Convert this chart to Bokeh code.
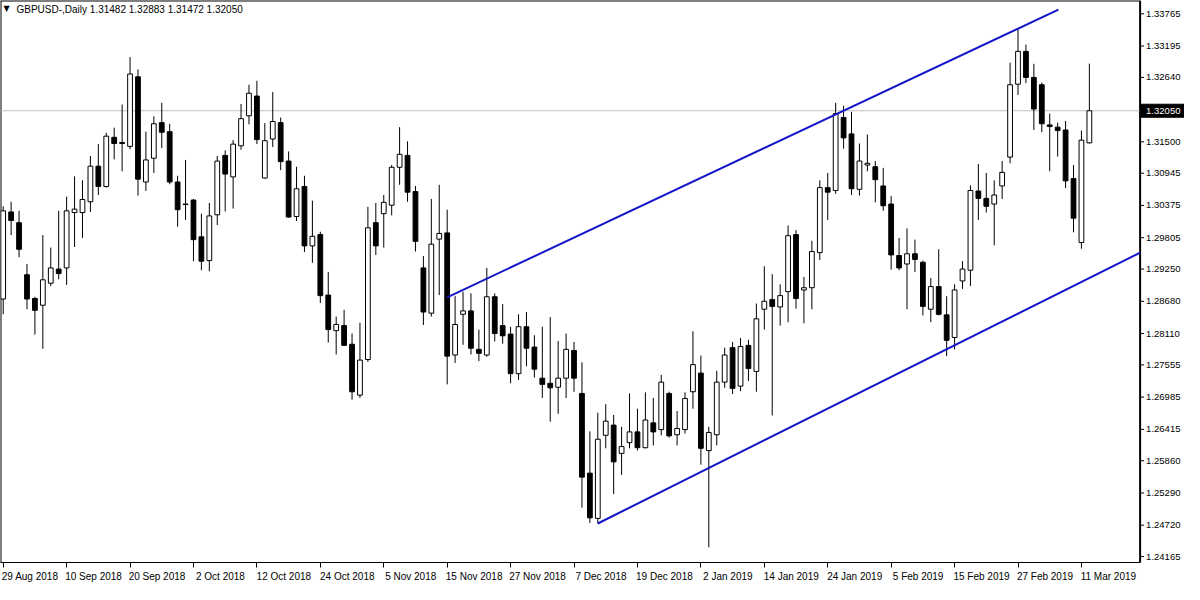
from bokeh.plotting import figure
from bokeh.models import ColumnDataSource, FixedTicker, Label, Range1d
from bokeh.core.properties import value
from bokeh.embed import file_html
from bokeh.resources import INLINE

# ---------------- data (GBPUSD daily, 29 Aug 2018 - 12 Mar 2019) ----------------
opens = [1.2872, 1.3026, 1.3007, 1.2915, 1.2873, 1.2861, 1.2900, 1.2925, 1.2927, 1.3025,
         1.3025, 1.3044, 1.3107, 1.3071, 1.3158, 1.3149, 1.3142, 1.3265, 1.3079, 1.3121,
         1.3184, 1.3168, 1.3079, 1.3040, 1.3047, 1.2982, 1.2940, 1.3021, 1.3126, 1.3088,
         1.3143, 1.3196, 1.3231, 1.3086, 1.3155, 1.3184, 1.3116, 1.3018, 1.3071, 1.2966,
         1.2986, 1.2879, 1.2816, 1.2825, 1.2792, 1.2702, 1.2765, 1.3007, 1.3023, 1.3038,
         1.3105, 1.3126, 1.3062, 1.2927, 1.2847, 1.2978, 1.2989, 1.2773, 1.2845, 1.2851,
         1.2783, 1.2773, 1.2876, 1.2825, 1.2810, 1.2740, 1.2823, 1.2787, 1.2732, 1.2723,
         1.2716, 1.2732, 1.2781, 1.2705, 1.2564, 1.2484, 1.2631, 1.2649, 1.2599, 1.2618,
         1.2637, 1.2609, 1.2653, 1.2641, 1.2705, 1.2632, 1.2641, 1.2708, 1.2741, 1.2604,
         1.2632, 1.2725, 1.2786, 1.2718, 1.2790, 1.2744, 1.2854, 1.2871, 1.2858, 1.2885,
         1.2986, 1.2888, 1.2892, 1.2954, 1.3069, 1.3064, 1.3193, 1.3164, 1.3066, 1.3109,
         1.3106, 1.3072, 1.3040, 1.2949, 1.2934, 1.2952, 1.2937, 1.2854, 1.2894, 1.2844,
         1.2804, 1.2904, 1.2923, 1.3063, 1.3050, 1.3040, 1.3072, 1.3123, 1.3252, 1.3310,
         1.3264, 1.3251, 1.3180, 1.3176, 1.3171, 1.3085, 1.2972, 1.31482]

highs = [1.3036, 1.3044, 1.3028, 1.2934, 1.2876, 1.2985, 1.2963, 1.3028, 1.3053, 1.3089,
         1.3082, 1.3125, 1.3146, 1.3166, 1.3175, 1.3216, 1.3300, 1.3278, 1.3168, 1.3195,
         1.3219, 1.3182, 1.3090, 1.3118, 1.3049, 1.3023, 1.3042, 1.3125, 1.3135, 1.3153,
         1.3217, 1.3251, 1.3258, 1.3183, 1.3238, 1.3193, 1.3133, 1.3106, 1.3090, 1.3046,
         1.2991, 1.2920, 1.2841, 1.2853, 1.2811, 1.2830, 1.3035, 1.3042, 1.3056, 1.3109,
         1.3176, 1.3151, 1.3072, 1.2948, 1.3049, 1.3074, 1.3030, 1.2877, 1.2885, 1.2882,
         1.2818, 1.2927, 1.2882, 1.2863, 1.2823, 1.2845, 1.2849, 1.2808, 1.2823, 1.2840,
         1.2798, 1.2811, 1.2796, 1.2760, 1.2638, 1.2671, 1.2686, 1.2667, 1.2646, 1.2705,
         1.2678, 1.2707, 1.2697, 1.2738, 1.2708, 1.2674, 1.2707, 1.2815, 1.2772, 1.2646,
         1.2745, 1.2786, 1.2796, 1.2803, 1.2800, 1.2864, 1.2930, 1.2916, 1.2898, 1.3002,
         1.2994, 1.2911, 1.2975, 1.3082, 1.3095, 1.3219, 1.3214, 1.3203, 1.3147, 1.3163,
         1.3116, 1.3104, 1.3054, 1.2980, 1.2997, 1.2977, 1.2940, 1.2909, 1.2960, 1.2877,
         1.2898, 1.2939, 1.3073, 1.3111, 1.3095, 1.3082, 1.3116, 1.3290, 1.3349, 1.3322,
         1.3288, 1.3255, 1.3200, 1.3184, 1.3187, 1.3109, 1.3170, 1.32883]

lows = [1.2845, 1.2985, 1.2946, 1.2854, 1.2809, 1.2784, 1.2895, 1.2907, 1.2897, 1.2964,
        1.2980, 1.3026, 1.3056, 1.3069, 1.3119, 1.3098, 1.3137, 1.3055, 1.3063, 1.3095,
        1.3139, 1.3075, 1.3000, 1.3012, 1.2939, 1.2923, 1.2921, 1.3003, 1.3027, 1.3032,
        1.3136, 1.3181, 1.3146, 1.3085, 1.3141, 1.3100, 1.3016, 1.3010, 1.2955, 1.2936,
        1.2865, 1.2795, 1.2774, 1.2789, 1.2694, 1.2697, 1.2761, 1.2950, 1.2963, 1.3020,
        1.3074, 1.3044, 1.2956, 1.2826, 1.2841, 1.2879, 1.2721, 1.2759, 1.2791, 1.2774,
        1.2762, 1.2770, 1.2797, 1.2793, 1.2723, 1.2729, 1.2753, 1.2733, 1.2697, 1.2655,
        1.2669, 1.2697, 1.2708, 1.2503, 1.2476, 1.2475, 1.2608, 1.2527, 1.2561, 1.2608,
        1.2604, 1.2608, 1.2613, 1.2631, 1.2627, 1.2613, 1.2634, 1.2678, 1.2579, 1.2433,
        1.2613, 1.2715, 1.2704, 1.2709, 1.2727, 1.2708, 1.2818, 1.2666, 1.2825, 1.2831,
        1.2855, 1.2829, 1.2854, 1.2941, 1.3012, 1.3058, 1.3138, 1.3056, 1.3055, 1.3098,
        1.3043, 1.3028, 1.2924, 1.2923, 1.2854, 1.2920, 1.2843, 1.2831, 1.2843, 1.2771,
        1.2783, 1.2890, 1.2895, 1.3012, 1.3025, 1.2967, 1.3049, 1.3112, 1.3233, 1.3254,
        1.3171, 1.3167, 1.3098, 1.3124, 1.3068, 1.2990, 1.2961, 1.31472]

closes = [1.3028, 1.3011, 1.2960, 1.2872, 1.2852, 1.2906, 1.2927, 1.2917, 1.3028, 1.3031,
          1.3048, 1.3107, 1.3071, 1.3160, 1.3147, 1.3147, 1.3270, 1.3084, 1.3118, 1.3182,
          1.3167, 1.3079, 1.3030, 1.3039, 1.2977, 1.2939, 1.3019, 1.3116, 1.3093, 1.3146,
          1.3191, 1.3236, 1.3154, 1.3152, 1.3186, 1.3115, 1.3017, 1.3067, 1.2966, 1.2983,
          1.2878, 1.2818, 1.2827, 1.2790, 1.2708, 1.2764, 1.2998, 1.2966, 1.3043, 1.3105,
          1.3128, 1.3061, 1.2974, 1.2849, 1.2969, 1.2988, 1.2771, 1.2827, 1.2851, 1.2785,
          1.2776, 1.2876, 1.2811, 1.2807, 1.2740, 1.2823, 1.2785, 1.2748, 1.2721, 1.2715,
          1.2732, 1.2783, 1.2732, 1.2557, 1.2485, 1.2624, 1.2656, 1.2584, 1.2611, 1.2637,
          1.2609, 1.2658, 1.2637, 1.2725, 1.2630, 1.2643, 1.2696, 1.2756, 1.2608, 1.2636,
          1.2725, 1.2773, 1.2714, 1.2788, 1.2749, 1.2837, 1.2868, 1.2859, 1.2878, 1.2984,
          1.2873, 1.2892, 1.2956, 1.3069, 1.3061, 1.3200, 1.3157, 1.3067, 1.3116, 1.3112,
          1.3083, 1.3037, 1.2950, 1.2927, 1.2952, 1.2942, 1.2859, 1.2894, 1.2845, 1.2799,
          1.2888, 1.2925, 1.3064, 1.3050, 1.3036, 1.3056, 1.3096, 1.3251, 1.3310, 1.3264,
          1.3208, 1.3182, 1.3177, 1.3170, 1.3081, 1.3015, 1.3153, 1.32050]

date_labels = ["29 Aug 2018", "10 Sep 2018", "20 Sep 2018", "2 Oct 2018", "12 Oct 2018",
               "24 Oct 2018", "5 Nov 2018", "15 Nov 2018", "27 Nov 2018", "7 Dec 2018",
               "19 Dec 2018", "2 Jan 2019", "14 Jan 2019", "24 Jan 2019", "5 Feb 2019",
               "15 Feb 2019", "27 Feb 2019", "11 Mar 2019"]
date_label_bars = [0, 8, 16, 24, 32, 40, 48, 56, 64, 72, 80, 88, 96, 104, 112, 120, 128, 136]

price_ticks = [1.33765, 1.33195, 1.32640, 1.31500, 1.30945, 1.30375, 1.29805,
               1.29250, 1.28680, 1.28110, 1.27555, 1.26985, 1.26415, 1.25860, 1.25290,
               1.24720, 1.24165]

last_price = 1.32050
title_text = "GBPUSD-,Daily  1.31482 1.32883 1.31472 1.32050"

# trend lines (bar index, price)
upper_x = [56, 133.1]
upper_y = [1.2875, 1.3384]
lower_x = [75, 143.4]
lower_y = [1.2475, 1.2954]

# ---------------- layout constants ----------------
X_START, CHART_EDGE, X_END = -0.34, 143.4, 149.0
Y_START, Y_END = 1.2406, 1.3400
FONT = "Liberation Sans"
BOX_HALF = 0.00115   # half height of the current-price box, in price units (~6.5 px)

n = len(opens)
idx = list(range(n))
tops = [max(o, c) for o, c in zip(opens, closes)]
bots = [min(o, c) for o, c in zip(opens, closes)]
fills = ["white" if c > o else "black" for o, c in zip(opens, closes)]
src = ColumnDataSource(dict(x=idx, high=highs, low=lows, top=tops, bottom=bots, fill=fills))

p = figure(width=1184, height=584, x_range=Range1d(X_START, X_END), y_range=Range1d(Y_START, Y_END),
           output_backend="svg", toolbar_location=None, y_axis_location=None,
           min_border_left=0, min_border_right=0, min_border_top=0, min_border_bottom=0)
p.grid.visible = False
p.outline_line_color = None
p.background_fill_color = "white"
p.border_fill_color = "white"

# chart borders: left, top, right edge (price scale)
p.segment(x0=[X_START, X_START, CHART_EDGE], y0=[Y_START, Y_END, Y_START],
          x1=[X_START, CHART_EDGE, CHART_EDGE], y1=[Y_END, Y_END, Y_END],
          line_color="black", line_width=2)

# current price line across the chart area
p.segment(x0=[X_START], y0=[last_price], x1=[CHART_EDGE], y1=[last_price],
          line_color="#c0c0c0", line_width=1)

# candles
p.segment(x0="x", y0="low", x1="x", y1="high", source=src, line_color="black", line_width=1)
p.vbar(x="x", width=0.6, top="top", bottom="bottom", source=src,
       fill_color="fill", line_color="black", line_width=1)

# channel lines
p.line(upper_x, upper_y, line_color="#1414c8", line_width=2)
p.line(lower_x, lower_y, line_color="#1414c8", line_width=2)

# price scale on the right (MT4 style)
m = len(price_ticks)
p.segment(x0=[CHART_EDGE] * m, y0=price_ticks, x1=[CHART_EDGE + 0.5] * m, y1=price_ticks,
          line_color="black", line_width=1)
p.text(x=[CHART_EDGE] * m, y=price_ticks, text=["%.5f" % t for t in price_ticks],
       x_offset=6, text_baseline="middle", text_align="left",
       text_font=value(FONT), text_font_size="9.5px", text_color="black")
p.quad(left=[CHART_EDGE], right=[X_END], top=[last_price + BOX_HALF],
       bottom=[last_price - BOX_HALF], fill_color="black", line_color="black")
p.text(x=[CHART_EDGE], y=[last_price], text=["%.5f" % last_price], x_offset=6,
       text_baseline="middle", text_align="left", text_font=value(FONT),
       text_font_size="9.5px", text_color="white")

# x axis: labels start at the tick (MT4 style)
shift = 3.4
xa = p.xaxis[0]
major = [round(b + shift, 2) for b in date_label_bars]
xa.ticker = FixedTicker(ticks=major, minor_ticks=date_label_bars)
xa.major_label_overrides = {mj: lab for mj, lab in zip(major, date_labels)}
xa.bounds = (X_START, CHART_EDGE)
xa.major_tick_line_color = None
xa.minor_tick_line_color = "black"
xa.minor_tick_in = 0
xa.minor_tick_out = 5
xa.major_label_standoff = 2
xa.axis_line_color = "black"
xa.major_label_text_font = FONT
xa.major_label_text_font_size = "10px"
xa.major_label_text_color = "black"

# header
p.add_layout(Label(x=X_START, y=Y_END, x_offset=3, y_offset=-3, text="\u25bc", text_color="black",
                   text_font="DejaVu Sans", text_font_size="8px", text_baseline="top"))
p.add_layout(Label(x=X_START, y=Y_END, x_offset=16, y_offset=-3, text=title_text, text_color="black",
                   text_font=FONT, text_font_size="10px", text_baseline="top"))

open("out.html", "w").write(file_html(p, INLINE))
